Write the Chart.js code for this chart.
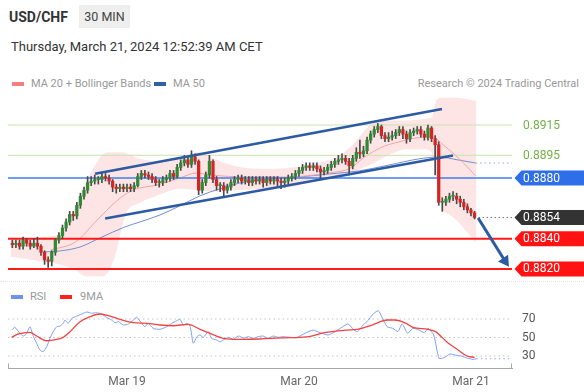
<!DOCTYPE html>
<html>
<head>
<meta charset="utf-8">
<script src="https://cdn.jsdelivr.net/npm/chart.js@4.4.1/dist/chart.umd.min.js"></script>
<style>
  body { margin: 0; width: 584px; height: 392px; overflow: hidden; background: #fff;
         font-family: Roboto, "Liberation Sans", Arial, sans-serif; position: relative; }
  .abs { position: absolute; white-space: nowrap; }
  #pair { left: 9px; top: 9px; font-size: 14px; font-weight: bold; color: #333; }
  #tf { left: 79px; top: 5px; width: 51px; height: 23px; line-height: 23px; background: #eee;
        text-align: center; font-size: 12.5px; color: #444; }
  #date { left: 11px; top: 39px; font-size: 13px; color: #333; }
  .leg { font-size: 11px; color: #999; line-height: 13px; }
  .sw { position: absolute; width: 12px; height: 4px; }
  #sep { left: 0; top: 281px; width: 584px; border-top: 1px dotted #e6e6e6; }
  canvas { position: absolute; left: 0; top: 0; }
</style>
</head>
<body>
<div class="abs" id="pair">USD/CHF</div>
<div class="abs" id="tf">30 MIN</div>
<div class="abs" id="date">Thursday, March 21, 2024 12:52:39 AM CET</div>

<div class="sw" style="left:12px; top:82px; background:#f47f7f"></div>
<div class="abs leg" style="left:31px; top:77px">MA 20 + Bollinger Bands</div>
<div class="sw" style="left:154px; top:82px; background:#33619f"></div>
<div class="abs leg" style="left:173px; top:77px">MA 50</div>
<div class="abs leg" style="right:5px; top:77px">Research © 2024 Trading Central</div>

<div class="abs" id="sep"></div>
<div class="sw" style="left:11px; top:295px; background:#6f93ea"></div>
<div class="abs leg" style="left:30px; top:290px">RSI</div>
<div class="sw" style="left:60px; top:295px; background:#ff1f1f"></div>
<div class="abs leg" style="left:80px; top:290px">9MA</div>

<canvas id="price" width="584" height="392"></canvas>
<canvas id="rsi" width="584" height="392"></canvas>

<script>
// bougies 30 min, index 0 = 18 mars 08:00
const opens = [
  0.8837, 0.8836, 0.8837, 0.8835, 0.8839, 0.8837, 0.8835, 0.8837, 0.8835, 0.8831,
  0.8826, 0.8825, 0.8831, 0.8839, 0.8842, 0.8847, 0.8851, 0.8856, 0.8855, 0.8862,
  0.8868, 0.8872, 0.8877, 0.8878, 0.8879, 0.8879, 0.8881, 0.8880, 0.8878, 0.8874,
  0.8873, 0.8874, 0.8873, 0.8874, 0.8873, 0.8875, 0.8881, 0.8883, 0.8882, 0.8881,
  0.8879, 0.8877, 0.8877, 0.8879, 0.8880, 0.8883, 0.8881, 0.8887, 0.8890, 0.8892,
  0.8889, 0.8894, 0.8891, 0.8872, 0.8877, 0.8882, 0.8891, 0.8879, 0.8875, 0.8875,
  0.8872, 0.8874, 0.8877, 0.8879, 0.8880, 0.8878, 0.8879, 0.8877, 0.8879, 0.8878,
  0.8879, 0.8877, 0.8879, 0.8878, 0.8879, 0.8878, 0.8877, 0.8878, 0.8880, 0.8881,
  0.8883, 0.8885, 0.8887, 0.8888, 0.8887, 0.8888, 0.8886, 0.8884, 0.8885, 0.8887,
  0.8889, 0.8891, 0.8892, 0.8893, 0.8891, 0.8888, 0.8893, 0.8897, 0.8896, 0.8898,
  0.8905, 0.8909, 0.8912, 0.8914, 0.8908, 0.8906, 0.8907, 0.8908, 0.8910, 0.8912,
  0.8909, 0.8906, 0.8910, 0.8911, 0.8912, 0.8909, 0.8907, 0.8913, 0.8906, 0.8902,
  0.8864, 0.8864, 0.8866, 0.8868, 0.8868, 0.8866, 0.8864, 0.8861, 0.8859, 0.8857
];
const highs = [
  0.8839, 0.8839, 0.8839, 0.8841, 0.8840, 0.8839, 0.8840, 0.8841, 0.8836, 0.8832,
  0.8828, 0.8832, 0.8840, 0.8844, 0.8849, 0.8853, 0.8858, 0.8858, 0.8864, 0.8870,
  0.8874, 0.8881, 0.8881, 0.8882, 0.8881, 0.8884, 0.8883, 0.8882, 0.8879, 0.8876,
  0.8876, 0.8876, 0.8876, 0.8876, 0.8877, 0.8883, 0.8885, 0.8885, 0.8884, 0.8883,
  0.8881, 0.8879, 0.8881, 0.8882, 0.8885, 0.8885, 0.8889, 0.8892, 0.8895, 0.8894,
  0.8898, 0.8896, 0.8892, 0.8879, 0.8884, 0.8895, 0.8892, 0.8881, 0.8877, 0.8877,
  0.8876, 0.8879, 0.8881, 0.8882, 0.8882, 0.8881, 0.8881, 0.8881, 0.8881, 0.8881,
  0.8881, 0.8881, 0.8881, 0.8881, 0.8881, 0.8880, 0.8880, 0.8882, 0.8883, 0.8885,
  0.8887, 0.8889, 0.8890, 0.8890, 0.8890, 0.8890, 0.8888, 0.8887, 0.8889, 0.8891,
  0.8893, 0.8895, 0.8896, 0.8895, 0.8893, 0.8895, 0.8900, 0.8905, 0.8901, 0.8907,
  0.8911, 0.8914, 0.8916, 0.8915, 0.8910, 0.8910, 0.8911, 0.8912, 0.8914, 0.8914,
  0.8911, 0.8912, 0.8913, 0.8914, 0.8914, 0.8911, 0.8915, 0.8914, 0.8908, 0.8904,
  0.8867, 0.8868, 0.8870, 0.8871, 0.8870, 0.8868, 0.8866, 0.8863, 0.8860, 0.8858
];
const lows = [
  0.8834, 0.8834, 0.8833, 0.8833, 0.8835, 0.8833, 0.8834, 0.8833, 0.8829, 0.8823,
  0.8821, 0.8822, 0.8829, 0.8837, 0.8840, 0.8845, 0.8849, 0.8852, 0.8853, 0.8860,
  0.8866, 0.8870, 0.8875, 0.8876, 0.8876, 0.8877, 0.8878, 0.8876, 0.8871, 0.8870,
  0.8871, 0.8871, 0.8871, 0.8871, 0.8871, 0.8874, 0.8879, 0.8880, 0.8879, 0.8877,
  0.8875, 0.8874, 0.8875, 0.8877, 0.8878, 0.8879, 0.8880, 0.8885, 0.8888, 0.8887,
  0.8887, 0.8889, 0.8869, 0.8870, 0.8875, 0.8880, 0.8877, 0.8872, 0.8871, 0.8867,
  0.8870, 0.8872, 0.8875, 0.8877, 0.8876, 0.8876, 0.8875, 0.8875, 0.8876, 0.8876,
  0.8874, 0.8875, 0.8876, 0.8876, 0.8875, 0.8873, 0.8874, 0.8876, 0.8878, 0.8879,
  0.8881, 0.8883, 0.8885, 0.8885, 0.8885, 0.8884, 0.8879, 0.8882, 0.8883, 0.8885,
  0.8887, 0.8889, 0.8890, 0.8889, 0.8882, 0.8886, 0.8891, 0.8893, 0.8894, 0.8896,
  0.8903, 0.8907, 0.8910, 0.8906, 0.8904, 0.8904, 0.8905, 0.8906, 0.8908, 0.8906,
  0.8903, 0.8904, 0.8908, 0.8909, 0.8907, 0.8905, 0.8905, 0.8904, 0.8882, 0.8862,
  0.8858, 0.8862, 0.8864, 0.8865, 0.8863, 0.8861, 0.8859, 0.8857, 0.8855, 0.8853
];
const closes = [
  0.8836, 0.8837, 0.8835, 0.8839, 0.8837, 0.8835, 0.8837, 0.8835, 0.8831, 0.8826,
  0.8825, 0.8831, 0.8839, 0.8842, 0.8847, 0.8851, 0.8856, 0.8855, 0.8862, 0.8868,
  0.8872, 0.8877, 0.8878, 0.8879, 0.8879, 0.8881, 0.8880, 0.8878, 0.8874, 0.8873,
  0.8874, 0.8873, 0.8874, 0.8873, 0.8875, 0.8881, 0.8883, 0.8882, 0.8881, 0.8879,
  0.8877, 0.8877, 0.8879, 0.8880, 0.8883, 0.8881, 0.8887, 0.8890, 0.8892, 0.8889,
  0.8894, 0.8891, 0.8872, 0.8877, 0.8882, 0.8891, 0.8879, 0.8875, 0.8875, 0.8872,
  0.8874, 0.8877, 0.8879, 0.8880, 0.8878, 0.8879, 0.8877, 0.8879, 0.8878, 0.8879,
  0.8877, 0.8879, 0.8878, 0.8879, 0.8878, 0.8877, 0.8878, 0.8880, 0.8881, 0.8883,
  0.8885, 0.8887, 0.8888, 0.8887, 0.8888, 0.8886, 0.8884, 0.8885, 0.8887, 0.8889,
  0.8891, 0.8892, 0.8893, 0.8891, 0.8888, 0.8893, 0.8897, 0.8896, 0.8898, 0.8905,
  0.8909, 0.8912, 0.8914, 0.8908, 0.8906, 0.8907, 0.8908, 0.8910, 0.8912, 0.8909,
  0.8906, 0.8910, 0.8911, 0.8912, 0.8909, 0.8907, 0.8913, 0.8906, 0.8902, 0.8864,
  0.8864, 0.8866, 0.8868, 0.8868, 0.8866, 0.8864, 0.8861, 0.8859, 0.8857, 0.8854
];

// Bandes de Bollinger
const bandX = [-0.5, 8, 13, 17, 21, 25, 27, 29, 30.5, 32, 35, 41, 47, 52, 57, 62, 70, 78, 85, 90,
               95, 100, 105, 110, 115, 117, 118.5, 120, 122, 124, 127, 129.5];
const bandUpper = [0.8839, 0.8841, 0.8843, 0.8858, 0.8879, 0.8895, 0.8897, 0.8897, 0.8897, 0.8896,
                   0.8893, 0.8891, 0.8894, 0.8897, 0.8892, 0.8888, 0.8886, 0.8887, 0.8890, 0.8893,
                   0.8902, 0.8915, 0.8918, 0.8918, 0.8919, 0.8920, 0.8932, 0.8933, 0.8933, 0.8933,
                   0.8932, 0.8931];
const bandLower = [0.8828, 0.8825, 0.8823, 0.8820, 0.8815, 0.8815, 0.8819, 0.8831, 0.8847, 0.8858,
                   0.8863, 0.8869, 0.8873, 0.8872, 0.8871, 0.8872, 0.8873, 0.8874, 0.8879, 0.8881,
                   0.8884, 0.8889, 0.8895, 0.8899, 0.8899, 0.8897, 0.8879, 0.8860, 0.8856, 0.8852,
                   0.8844, 0.8837];

// Moyennes mobiles
const ma20X = [10.6, 17.6, 23.7, 27.3, 30.1, 33.7, 40.3, 46.7, 51.4, 55.5, 65, 76.9, 88, 94.4,
               98.3, 103.9, 107.8, 112.5, 117.3, 120.3, 124.5, 127.3, 129.3];
const ma20Values = [0.88325, 0.88378, 0.88523, 0.88609, 0.88668, 0.88721, 0.88754, 0.88800, 0.88833,
                    0.88820, 0.88807, 0.88807, 0.88833, 0.88866, 0.88939, 0.89011, 0.89038, 0.89064,
                    0.89071, 0.89018, 0.88932, 0.88866, 0.88814];
const ma50X = [8.5, 13.4, 18.9, 24.5, 31.4, 35.6, 41.2, 46.7, 52.3, 57.8, 63.4, 69, 74.5, 80.1,
               88.4, 96.8, 105.1, 113.4, 118.9, 124.5, 129.3];
const ma50Values = [0.88312, 0.88319, 0.88345, 0.88405, 0.88477, 0.88510, 0.88556, 0.88616, 0.88682,
                    0.88728, 0.88767, 0.88787, 0.88800, 0.88807, 0.88827, 0.88847, 0.88886, 0.88926,
                    0.88939, 0.88919, 0.88899];

// Canal haussier et flèche de projection
const channelUpperX = [23.1, 119.9];
const channelUpperY = [0.88828, 0.89256];
const channelLowerX = [25.9, 123.0];
const channelLowerY = [0.88533, 0.88949];
const arrowX = [130.0, 137.5];
const arrowY = [0.88536, 0.88252];

// Niveaux
const levelValues = [0.8915, 0.8895, 0.8880, 0.8854, 0.8840, 0.8820];
const levelLabels = ['0.8915', '0.8895', '0.8880', '0.8854', '0.8840', '0.8820'];

// RSI et sa moyenne 9
const rsiX = [-0.2, 0.7, 2.1, 3.1, 4.0, 4.9, 5.9, 6.8, 7.7, 8.6, 9.6, 10.5, 11.4, 12.4, 13.3, 14.2,
              14.7, 15.6, 16.6, 18.0, 19.4, 20.8, 22.1, 23.5, 24.9, 26.3, 27.7, 28.7, 29.6, 31.0,
              32.4, 33.8, 34.7, 36.1, 37.0, 37.9, 39.3, 41.2, 43.1, 44.5, 45.9, 46.8, 47.7, 48.7,
              49.6, 50.5, 51.5, 52.4, 53.3, 54.7, 55.6, 57.0, 58.0, 58.9, 60.3, 61.7, 63.1, 64.5,
              65.9, 67.2, 68.6, 70.0, 71.4, 72.8, 74.2, 75.6, 77.5, 79.4, 81.7, 83.9, 85.9, 88.1,
              90.1, 92.2, 93.7, 95.4, 96.3, 97.9, 99.4, 100.4, 102.1, 103.1, 104.6, 106.2, 107.6,
              108.8, 110.3, 111.8, 113.5, 115.0, 116.0, 117.6, 119.1, 120.7, 122.1, 123.8, 125.4,
              126.9, 128.6, 129.5];
const rsiValues = [58, 61, 54.5, 51.6, 54.5, 61.7, 50.9, 43.7, 36.5, 34.7, 40, 49, 56.3, 61.7, 62.4,
                   65.3, 68.9, 65.3, 70.7, 73.2, 75.4, 77.6, 76.2, 76.8, 75.4, 71.8, 68.9, 66, 67.1,
                   63.5, 64.6, 68.9, 71.8, 65.3, 61.7, 65.3, 59.9, 58.8, 61.7, 65.3, 68.2, 69.7, 63.5,
                   65.3, 62.4, 43.7, 50.9, 52.7, 50.2, 56.3, 49.1, 47.3, 45.5, 47.3, 50.2, 48, 51.6,
                   49.5, 50.9, 49.1, 50.9, 51.6, 49.1, 51.6, 50.2, 50.9, 50.2, 50, 54.6, 58, 55.2,
                   52.7, 56.3, 61.7, 64.6, 58, 56.3, 63.5, 68.9, 74.3, 79, 72.5, 61.7, 59.9, 56.3,
                   64.6, 54.6, 59.9, 58, 55.2, 59.9, 52.7, 27.5, 28.6, 32.2, 30.8, 30, 27.8, 26.4, 27];
const rsiMaX = [-0.2, 1.7, 4.9, 6.8, 9.6, 12.4, 14.2, 16.1, 18.9, 21.7, 24.5, 27.3, 30.1, 33.8, 37.5,
                41.2, 44.9, 49.1, 52.4, 55.2, 58.9, 63.5, 69.1, 74.7, 77.5, 82.8, 87, 93.1, 96.3,
                100.4, 104.6, 106.7, 109.9, 111.8, 116, 118.1, 121.2, 124.4, 126.9, 129];
const rsiMaValues = [50.2, 53.8, 55.6, 51.6, 46.5, 48, 50.2, 56.3, 67.1, 72.5, 75.4, 73.2, 69.6, 66,
                     65.3, 63.5, 62.7, 64.3, 58.8, 54.5, 49.1, 48, 48.4, 49.5, 49.8, 50.9, 55.2, 58,
                     58.8, 63.5, 68.9, 68.9, 65.3, 61, 58.8, 56.3, 45.5, 36.5, 30, 28.6];
const rsiTicks = [70, 50, 30];

// Axe du temps
const dayTicks = [32, 80, 128];
const dayLabels = ['Mar 19', 'Mar 20', 'Mar 21'];

const X_MIN = -1.21, X_MAX = 139.45;
const FONT = 'Roboto, "Liberation Sans", Arial, sans-serif';

const pts = (xs, ys) => xs.map((x, i) => ({ x, y: ys[i] }));
const flat = (x0, v) => [{ x: x0, y: v }, { x: X_MAX, y: v }];

const UP = '#2f8a34', DOWN = '#d92323';
const lastIdx = closes.length - 1;

// Styles des niveaux horizontaux
const levelStyle = [
  { line: '#c8e3b0', width: 1, fill: null, text: '#72b045' },
  { line: '#c8e3b0', width: 1, fill: null, text: '#72b045' },
  { line: '#3f7ff0', width: 1.5, fill: '#2e6ee8', text: '#fff' },
  { line: null, width: 0, fill: '#333333', text: '#fff' },
  { line: '#ff1a1a', width: 2, fill: '#ff1212', text: '#fff' },
  { line: '#ff1a1a', width: 2, fill: '#ff1212', text: '#fff' }
];

const lineDs = (data, color, width, order, extra) => Object.assign({
  type: 'line', data, borderColor: color, borderWidth: width, pointRadius: 0, fill: false, order
}, extra || {});

const levelDatasets = levelValues
  .map((v, i) => levelStyle[i].line ? lineDs(flat(X_MIN, v), levelStyle[i].line, levelStyle[i].width, 12) : null)
  .filter(Boolean);

// Étiquettes de prix à droite
const priceTags = {
  id: 'priceTags',
  afterDraw(chart) {
    const { ctx, chartArea } = chart;
    const y = chart.scales.y;
    ctx.save();
    ctx.font = '12px ' + FONT;
    ctx.textBaseline = 'middle';
    levelValues.forEach((v, i) => {
      const py = y.getPixelForValue(v);
      const x0 = chartArea.right + 2.5;
      const st = levelStyle[i];
      if (st.fill) {
        ctx.fillStyle = st.fill;
        ctx.beginPath();
        ctx.moveTo(x0, py);
        ctx.lineTo(x0 + 7, py - 7.5);
        ctx.lineTo(584, py - 7.5);
        ctx.lineTo(584, py + 7.5);
        ctx.lineTo(x0 + 7, py + 7.5);
        ctx.closePath();
        ctx.fill();
      }
      ctx.fillStyle = st.text;
      ctx.fillText(levelLabels[i], x0 + 8.5, py + 0.5);
    });
    ctx.restore();
  }
};

new Chart(document.getElementById('price'), {
  type: 'bar',
  data: {
    datasets: [
      lineDs(pts(bandX, bandUpper), 'transparent', 0, 20,
             { fill: '+1', backgroundColor: 'rgba(250,150,150,0.25)', tension: 0.4, cubicInterpolationMode: 'monotone' }),
      lineDs(pts(bandX, bandLower), 'transparent', 0, 20, { tension: 0.4, cubicInterpolationMode: 'monotone' }),
      lineDs(pts(ma20X, ma20Values), '#f5a3a3', 1, 15, { tension: 0.4, cubicInterpolationMode: 'monotone' }),
      lineDs(pts(ma50X, ma50Values), '#6f8fd0', 1, 15, { tension: 0.4, cubicInterpolationMode: 'monotone' }),
      lineDs(flat(ma50X[ma50X.length - 1], ma50Values[ma50Values.length - 1]), '#8aa5dc', 1, 15, { borderDash: [1.5, 3] }),
      ...levelDatasets,
      lineDs(flat(lastIdx, closes[lastIdx]), '#777', 1, 12, { borderDash: [1.5, 2.5] }),
      {
        data: closes.map((c, i) => ({ x: i, y: [lows[i], highs[i]] })),
        backgroundColor: '#4a4a4a', barThickness: 1, grouped: false, order: 5
      },
      {
        data: closes.map((c, i) => ({ x: i, y: [opens[i], c] })),
        backgroundColor: closes.map((c, i) => c >= opens[i] ? UP : DOWN),
        barThickness: 2.6, minBarLength: 1, grouped: false, order: 4
      },
      lineDs(pts(channelUpperX, channelUpperY), '#2c5aa3', 2.5, 2),
      lineDs(pts(channelLowerX, channelLowerY), '#2c5aa3', 2.5, 2),
      lineDs(pts(arrowX, arrowY), '#2c5aa3', 3, 1),
      lineDs([{ x: arrowX[1], y: arrowY[1] }], '#2c5aa3', 0, 0, {
        pointRadius: 7, pointStyle: 'triangle', pointRotation: 146,
        pointBackgroundColor: '#2c5aa3', pointBorderWidth: 0
      })
    ]
  },
  options: {
    responsive: false,
    animation: false,
    events: [],
    layout: { padding: { left: 8, right: 72, top: 95, bottom: 112 } },
    plugins: { legend: { display: false }, tooltip: { enabled: false } },
    scales: {
      x: { type: 'linear', min: X_MIN, max: X_MAX, offset: false, display: false },
      y: { min: 0.88127, max: 0.89348, display: false, beginAtZero: false }
    }
  },
  plugins: [priceTags]
});

// Petits crochets aux extrémités de l'axe du temps
const axisBracket = {
  id: 'axisBracket',
  afterDraw(chart) {
    const { ctx, chartArea } = chart;
    ctx.save();
    ctx.strokeStyle = '#a8a8a8';
    ctx.lineWidth = 1;
    ctx.beginPath();
    [chartArea.left + 0.5, chartArea.right - 0.5].forEach(x => {
      ctx.moveTo(x, chartArea.bottom + 0.5);
      ctx.lineTo(x, chartArea.bottom - 5);
    });
    ctx.stroke();
    ctx.restore();
  }
};

new Chart(document.getElementById('rsi'), {
  type: 'line',
  data: {
    datasets: [
      ...rsiTicks.map(v => lineDs(flat(X_MIN, v), '#c4c4c4', 1, 10, { borderDash: [1.5, 3] })),
      lineDs(flat(rsiX[rsiX.length - 1], rsiValues[rsiValues.length - 1]), '#8fa8ee', 1, 5, { borderDash: [1.5, 3] }),
      lineDs(pts(rsiX, rsiValues), '#7f9ff0', 1, 4, { tension: 0.2 }),
      lineDs(pts(rsiMaX, rsiMaValues), '#f24343', 1.3, 3, { tension: 0.4, cubicInterpolationMode: 'monotone' })
    ]
  },
  options: {
    responsive: false,
    animation: false,
    events: [],
    layout: { padding: { left: 8, right: 0, top: 300.5, bottom: 0 } },
    plugins: { legend: { display: false }, tooltip: { enabled: false } },
    scales: {
      x: {
        type: 'linear', min: X_MIN, max: X_MAX, offset: false,
        grid: { display: false, drawTicks: false },
        border: { display: true, color: '#a8a8a8', width: 1 },
        afterBuildTicks: ax => { ax.ticks = dayTicks.map(v => ({ value: v })); },
        afterFit: ax => { ax.height = 23.5; },
        ticks: {
          autoSkip: false, maxRotation: 0, padding: 6, color: '#666',
          font: { family: FONT, size: 12 },
          callback: v => dayLabels[dayTicks.indexOf(v)]
        }
      },
      y: {
        position: 'right', min: 16.5, max: 90,
        grid: { display: false, drawTicks: false },
        border: { display: false },
        afterBuildTicks: ax => { ax.ticks = rsiTicks.map(v => ({ value: v })); },
        afterFit: ax => { ax.width = 72; },
        ticks: { padding: 10, color: '#555', font: { family: FONT, size: 12 } }
      }
    }
  },
  plugins: [axisBracket]
});
</script>
</body>
</html>
